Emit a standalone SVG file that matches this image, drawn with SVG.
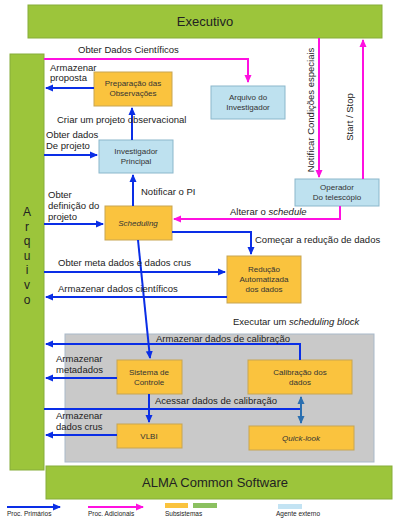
<svg xmlns="http://www.w3.org/2000/svg" width="393" height="518" viewBox="0 0 393 518">
<style>
text{font-family:"Liberation Sans",Arial,sans-serif;fill:#222}
.lbl{font-size:9.5px}
.bx{font-size:8px;fill:#333}
.g{fill:#9cc53b;stroke:#86ad3a;stroke-width:1}
.o{fill:#fac33e;stroke:#c8a552;stroke-width:1}
.b{fill:#bee1ef;stroke:#8bb7cb;stroke-width:1}
.bl{stroke:#0a2ee6;stroke-width:2;fill:none}
.mg{stroke:#ff10e0;stroke-width:2;fill:none}
</style>
<defs>
<marker id="ab" markerWidth="8" markerHeight="8" refX="7" refY="4" orient="auto" markerUnits="userSpaceOnUse"><path d="M0,0.5 L8,4 L0,7.5 Z" fill="#0a2ee6"/></marker>
<marker id="am" markerWidth="8" markerHeight="8" refX="7" refY="4" orient="auto" markerUnits="userSpaceOnUse"><path d="M0,0.5 L8,4 L0,7.5 Z" fill="#ff10e0"/></marker>
<marker id="as" markerWidth="8" markerHeight="8" refX="7" refY="4" orient="auto-start-reverse" markerUnits="userSpaceOnUse"><path d="M0,0.5 L8,4 L0,7.5 Z" fill="#2a6fb0"/></marker>
</defs>
<rect x="65" y="334" width="309" height="128" fill="#c9c9c9" stroke="#a9b9c9"/>
<g id="executivo"><rect class="g" x="28" y="5" width="354" height="33"/><text x="205" y="26" font-size="13" text-anchor="middle">Executivo</text></g>
<g id="arquivo"><rect class="g" x="10" y="54" width="34" height="416"/>
<g font-size="12" text-anchor="middle"><text x="27" y="216">A</text><text x="27" y="231">r</text><text x="27" y="245">q</text><text x="27" y="260">u</text><text x="27" y="274">i</text><text x="27" y="289">v</text><text x="27" y="304">o</text></g></g>
<g id="acs"><rect class="g" x="46" y="466" width="346" height="33"/><text x="215" y="487" font-size="13" text-anchor="middle">ALMA Common Software</text></g>
<g id="prep"><rect class="o" x="94" y="72" width="78" height="34"/><text class="bx" x="133" y="86" text-anchor="middle">Preparação das</text><text class="bx" x="133" y="96" text-anchor="middle">Observações</text></g>
<g id="arqinv"><rect class="b" x="211" y="86" width="74" height="33"/><text class="bx" x="248" y="100" text-anchor="middle">Arquivo do</text><text class="bx" x="248" y="110" text-anchor="middle">Investigador</text></g>
<g id="invpri"><rect class="b" x="99" y="140" width="74" height="33"/><text class="bx" x="136" y="154" text-anchor="middle">Investigador</text><text class="bx" x="136" y="164" text-anchor="middle">Principal</text></g>
<g id="sched"><rect class="o" x="105" y="206" width="67" height="34"/><text class="bx" x="138" y="226" text-anchor="middle" font-style="italic">Scheduling</text></g>
<g id="operador"><rect class="b" x="295" y="179" width="84" height="27"/><text class="bx" x="337" y="190" text-anchor="middle">Operador</text><text class="bx" x="337" y="200" text-anchor="middle">Do telescópio</text></g>
<g id="reducao"><rect class="o" x="227" y="256" width="74" height="47"/><text class="bx" x="264" y="272" text-anchor="middle">Redução</text><text class="bx" x="264" y="282" text-anchor="middle">Automatizada</text><text class="bx" x="264" y="292" text-anchor="middle">dos dados</text></g>
<g id="sistema"><rect class="o" x="117" y="360" width="65" height="34"/><text class="bx" x="149" y="375" text-anchor="middle">Sistema de</text><text class="bx" x="149" y="385" text-anchor="middle">Controle</text></g>
<g id="calib"><rect class="o" x="248" y="360" width="104" height="34"/><text class="bx" x="300" y="375" text-anchor="middle">Calibração dos</text><text class="bx" x="300" y="385" text-anchor="middle">dados</text></g>
<g id="vlbi"><rect class="o" x="117" y="424" width="65" height="24"/><text class="bx" x="149" y="439" text-anchor="middle">VLBI</text></g>
<g id="quicklook"><rect class="o" x="249" y="426" width="105" height="24"/><text class="bx" x="301" y="441" text-anchor="middle" font-style="italic">Quick-look</text></g>
<g id="connectors">
<path class="mg" d="M44,59 H248 V82" marker-end="url(#am)"/>
<path class="bl" d="M94,88 H46" marker-end="url(#ab)"/>
<path class="bl" d="M132,140 V108" marker-end="url(#ab)"/>
<path class="bl" d="M44,155 H97" marker-end="url(#ab)"/>
<path class="bl" d="M133,206 V175" marker-end="url(#ab)"/>
<path class="bl" d="M44,224 H103" marker-end="url(#ab)"/>
<path class="mg" d="M319,38 V177" marker-end="url(#am)"/>
<path class="mg" d="M363,179 V40" marker-end="url(#am)"/>
<path class="mg" d="M340,206 V219 H174" marker-end="url(#am)"/>
<path class="bl" d="M172,232 H251 V254" marker-end="url(#ab)"/>
<path class="bl" d="M44,272 H225" marker-end="url(#ab)"/>
<path class="bl" d="M227,297 H46" marker-end="url(#ab)"/>
<path class="bl" d="M138,240 L150,358" marker-end="url(#ab)"/>
<path class="bl" d="M300,360 V344 H46" marker-end="url(#ab)"/>
<path class="bl" d="M117,378 H46" marker-end="url(#ab)"/>
<path class="bl" d="M44,409 H301"/>
<path class="bl" d="M149,394 V422" marker-end="url(#ab)"/>
<path class="bl" d="M117,435 H46" marker-end="url(#ab)"/>
<path d="M301,397 V423" stroke="#2a6fb0" stroke-width="2" fill="none" marker-start="url(#as)" marker-end="url(#as)"/>
</g>
<g id="labels" class="lbl">
<text class="lbl" x="78" y="53">Obter Dados Científicos</text>
<text class="lbl" x="50" y="71">Armazenar</text><text class="lbl" x="50" y="81">proposta</text>
<text class="lbl" x="57" y="123">Criar um projeto observacional</text>
<text class="lbl" x="46" y="138">Obter dados</text><text class="lbl" x="46" y="149">De projeto</text>
<text class="lbl" x="141" y="195">Notificar o PI</text>
<text class="lbl" x="48" y="198">Obter</text><text class="lbl" x="48" y="209">definição do</text><text class="lbl" x="48" y="220">projeto</text>
<text class="lbl" x="230" y="215">Alterar o <tspan font-style="italic">schedule</tspan></text>
<text class="lbl" x="255" y="243">Começar a redução de dados</text>
<text class="lbl" x="58" y="266">Obter meta dados e dados crus</text>
<text class="lbl" x="58" y="292">Armazenar dados científicos</text>
<text class="lbl" x="233" y="325">Executar um <tspan font-style="italic">scheduling block</tspan></text>
<text class="lbl" x="156" y="342">Armazenar dados de calibração</text>
<text class="lbl" x="56" y="362">Armazenar</text><text class="lbl" x="56" y="373">metadados</text>
<text class="lbl" x="155" y="404">Acessar  dados de calibração</text>
<text class="lbl" x="56" y="419">Armazenar</text><text class="lbl" x="56" y="430">dados crus</text>
<text class="lbl" transform="translate(314,110) rotate(-90)" text-anchor="middle">Notificar Condições especiais</text>
<text class="lbl" transform="translate(353,117) rotate(-90)" text-anchor="middle">Start / Stop</text>
</g>
<g id="legend">
<path d="M7,507 H60" stroke="#0a2ee6" stroke-width="2" marker-end="url(#ab)"/>
<path d="M88,507 H143" stroke="#ff10e0" stroke-width="2" marker-end="url(#am)"/>
<rect x="165" y="503" width="23" height="5" fill="#fac33e"/>
<rect x="193" y="503" width="24" height="5" fill="#8bc060"/>
<rect x="278" y="504" width="24" height="5" fill="#c3e3f3"/>
<g font-size="6.5"><text x="7" y="516">Proc. Primários</text><text x="88" y="516">Proc. Adicionais</text><text x="165" y="516">Subsistemas</text><text x="276" y="516">Agente externo</text></g>
</g>
</svg>
